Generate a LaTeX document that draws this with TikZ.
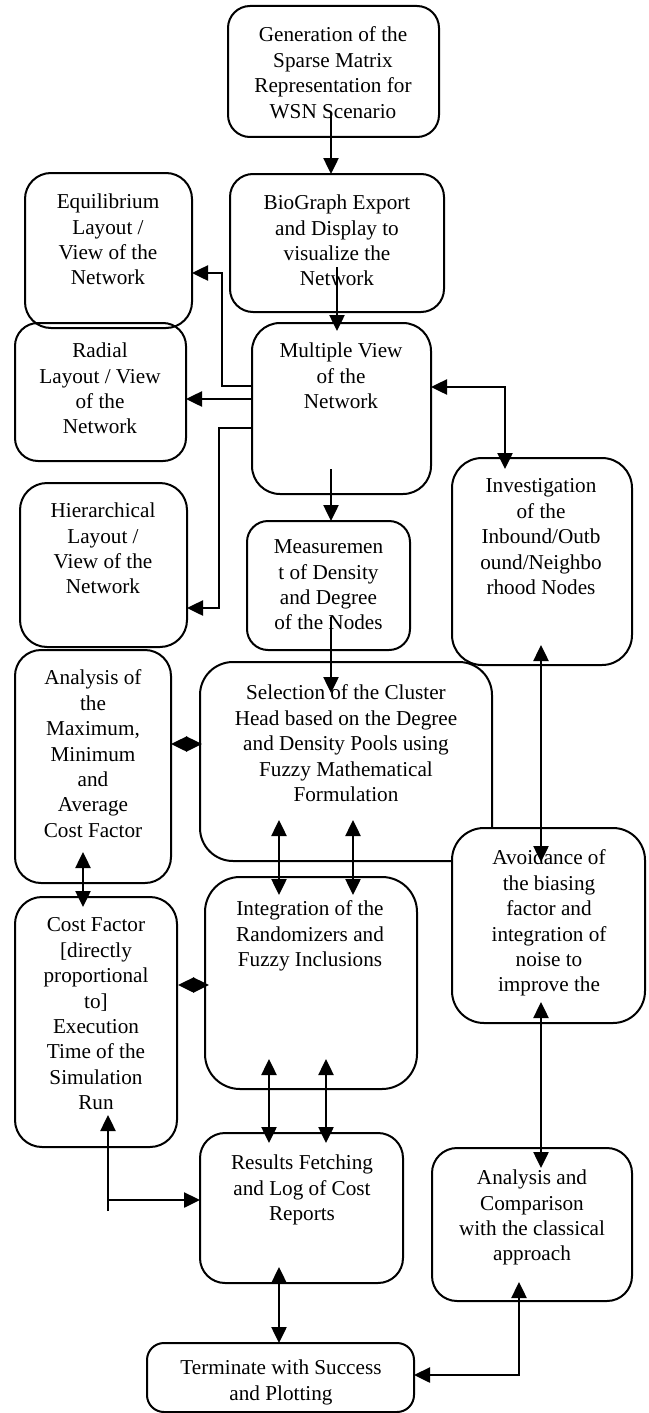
\documentclass[tikz,border=0pt]{standalone}
\usepackage{fontspec}
\setmainfont{Liberation Serif}
\usetikzlibrary{arrows.meta,calc}
\tikzset{
  bx/.style n args={3}{draw, line width=1pt, rounded corners=#3pt, minimum width=#1pt, minimum height=#2pt, inner sep=0pt, outer sep=0pt},
  tx/.style={anchor=north, align=center, inner sep=0pt, font=\fontsize{10.6}{12.7}\selectfont, execute at begin node=\strut},
  arr/.style={line width=1.25pt, -{Triangle[length=8pt,width=7.5pt]}},
  darr/.style={line width=1.25pt, {Triangle[length=8pt,width=7.5pt]}-{Triangle[length=8pt,width=7.5pt]}}
}
\begin{document}
\begin{tikzpicture}[x=0.5pt,y=-0.5pt]
\useasboundingbox (0,0) rectangle (648,1413);
% boxes
\node[bx={105.5}{65.5}{11}] (gen) at (333.5,71.5) {};
\node[bx={107}{69}{11.5}] (bio) at (337,243) {};
\node[bx={85.5}{69}{11.5}] (rad) at (100.5,392) {};
\node[bx={83.5}{77.5}{13}] (equ) at (108.5,250.5) {};
\node[bx={89.5}{85.5}{14}] (mul) at (341.5,408.5) {};
\node[bx={83.5}{82}{13.5}] (hie) at (103.5,565) {};
\node[bx={81.5}{64.5}{10.5}] (mea) at (328.5,585.5) {};
\node[bx={90}{103.5}{15}] (inv) at (542,561.5) {};
\node[bx={78}{116.5}{13}] (ana) at (93,766.5) {};
\node[bx={146}{99.5}{16.5}] (sel) at (346,761.5) {};
\node[bx={96.5}{97.5}{16}, fill=white] (avo) at (548.5,925.5) {};
\node[bx={81}{125}{13.5}] (cost) at (96,1022) {};
\node[bx={106}{106}{17.5}] (int) at (311,983) {};
\node[bx={101.5}{75}{12.5}] (res) at (301.5,1208) {};
\node[bx={100}{76.5}{12.5}] (cmp) at (532,1224.5) {};
\node[bx={133.5}{34.5}{8.5}] (ter) at (280.5,1377.5) {};
% texts
\node[tx] (gen-t) at (333,26.5) {Generation of the\\Sparse Matrix\\Representation for\\WSN Scenario};
\node[tx] (bio-t) at (337,194.5) {BioGraph Export\\and Display to\\visualize the\\Network};
\node[tx] (equ-t) at (108,193.5) {Equilibrium\\Layout /\\View of the\\Network};
\node[tx] (rad-t) at (100,342.5) {Radial\\Layout / View\\of the\\Network};
\node[tx] (mul-t) at (341,342.5) {Multiple View\\of the\\Network};
\node[tx] (hie-t) at (103,502.5) {Hierarchical\\Layout /\\View of the\\Network};
\node[tx] (mea-t) at (328.5,539.5) {Measuremen\\t of Density\\and Degree\\of the Nodes};
\node[tx] (inv-t) at (541,478.5) {Investigation\\of the\\Inbound/Outb\\ound/Neighbo\\rhood Nodes};
\node[tx] (ana-t) at (93,669.5) {Analysis of\\the\\Maximum,\\Minimum\\and\\Average\\Cost Factor};
\node[tx] (sel-t) at (346,684.5) {Selection of the Cluster\\Head based on the Degree\\and Density Pools using\\Fuzzy Mathematical\\Formulation};
\node[tx] (avo-t) at (549,849.5) {Avoidance of\\the biasing\\factor and\\integration of\\noise to\\improve the};
\node[tx] (cost-t) at (96,917.5) {Cost Factor\\{[}directly\\proportional\\to{]}\\Execution\\Time of the\\Simulation\\Run};
\node[tx] (int-t) at (310,900.5) {Integration of the\\Randomizers and\\Fuzzy Inclusions};
\node[tx] (res-t) at (302,1154.5) {Results Fetching\\and Log of Cost\\Reports};
\node[tx] (cmp-t) at (532,1169.5) {Analysis and\\Comparison\\with the classical\\approach};
\node[tx] (ter-t) at (281,1359.5) {Terminate with Success\\and Plotting};
% connectors
\draw[arr] ([shift={(-2.5,-25)}]gen.south) -- ([shift={(-6,0)}]bio.north);
\draw[arr] ([shift={(0,-45)}]bio.south) -- ([shift={(0,8)}]bio.south |- mul.north);
\draw[arr] ([shift={(0,-22.5)}]mul.west) -- ++(-30,0) |- ([shift={(0,22.5)}]equ.east);
\draw[arr] ([shift={(0,-9.5)}]mul.west) -- ([shift={(0,7)}]rad.east);
\draw[arr] ([shift={(0,19.5)}]mul.west) -- ++(-33,0) |- ([shift={(0,43)}]hie.east);
\draw[arr] ([shift={(-10.5,-25)}]mul.south) -- ([shift={(2.5,0)}]mea.north);
\draw[arr] ([shift={(2.5,-33)}]mea.south) -- ([shift={(-15,31)}]sel.north);
\draw[darr] ([shift={(0,-21.5)}]mul.east) -| ([shift={(-37,11)}]inv.north);
\draw[darr] ([shift={(0,-22.5)}]ana.east) -- ([shift={(2,-17.5)}]sel.west);
\draw[darr] ([shift={(-67,-41)}]sel.south) -- ([shift={(-32,18)}]int.north);
\draw[darr] ([shift={(7,-41)}]sel.south) -- ([shift={(42,18)}]int.north);
\draw[darr] ([shift={(-10,-31)}]ana.south) -- ([shift={(-13,10)}]cost.north);
\draw[darr] ([shift={(-1,-20)}]inv.south) -- ([shift={(-7.5,34)}]avo.north);
\draw[darr] ([shift={(1,-37)}]cost.east) -- ([shift={(4,2)}]int.west);
\draw[darr] ([shift={(-42,-30)}]int.south) -- ([shift={(-32.5,10)}]res.north);
\draw[darr] ([shift={(15,-30)}]int.south) -- ([shift={(24.5,10)}]res.north);
\draw[darr] ([shift={(-7.5,-21)}]avo.south) -- ([shift={(9,20)}]cmp.north);
\draw[darr] ([shift={(-22.5,-16)}]res.south) -- ([shift={(-1.5,0)}]ter.north);
\draw[darr] ([shift={(-13,-19)}]cmp.south) |- ([shift={(0,-2.5)}]ter.east);
\coordinate (tj) at (108,1200);
\draw[arr] ([shift={(0,11)}]tj) -- ([shift={(12,-32)}]cost.south);
\draw[arr] (tj) -- (res.west |- tj);
\end{tikzpicture}
\end{document}
